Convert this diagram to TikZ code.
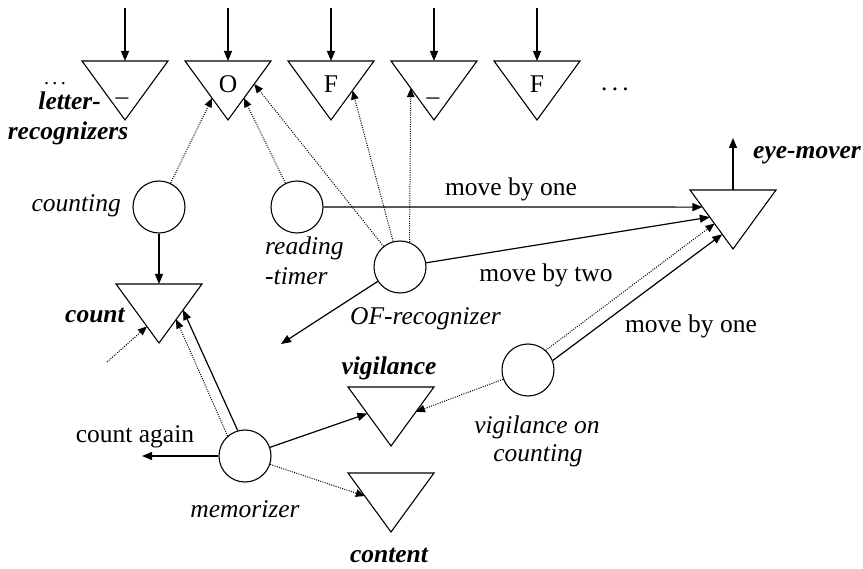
\documentclass[tikz,border=0pt]{standalone}
\usepackage{fontspec}
\setmainfont{Liberation Serif}
\usetikzlibrary{arrows.meta,calc}
\begin{document}
\begin{tikzpicture}[x=1pt,y=-1pt,
  font=\fontsize{25.5}{30}\selectfont,
  unit/.style={draw,circle,minimum size=52pt,inner sep=0pt,line width=1.1pt},
  wire/.style={line width=1.2pt,-{Triangle[length=10pt,width=8pt]}},
  hint/.style={line width=1pt,dash pattern=on 1pt off 1.3pt,-{Triangle[length=9pt,width=7.5pt]}},
  lab/.style={inner sep=0pt,anchor=base},
  tag/.style={inner sep=0pt,anchor=base,font=\fontsize{25.5}{30}\selectfont\itshape},
  bigtag/.style={inner sep=0pt,anchor=base,font=\fontsize{25.5}{30}\selectfont\bfseries\itshape},
  tri/.pic={
    \draw[line width=1.1pt] (-43,0) coordinate (-tl) -- (43,0) coordinate (-tr)
      -- (0,59) coordinate (-ap) -- cycle;
    \coordinate (-top) at (0,0);
  }]
\useasboundingbox (0,0) rectangle (863,569);

% letter recognizers
\pic (L1) at (125,61) {tri};
\pic (L2) at (228,61) {tri};
\pic (L3) at (331,61) {tri};
\pic (L4) at (434,61) {tri};
\pic (L5) at (537,61) {tri};
\node[lab] (l1t) at (122,105) {–};
\node[inner sep=0pt] (l2t) at (228,84) {O};
\node[inner sep=0pt] (l3t) at (331,84) {F};
\node[lab] (l4t) at (433,105) {–};
\node[inner sep=0pt] (l5t) at (537,84) {F};
\node[lab,font=\fontsize{20}{24}\selectfont] (dotsl) at (55,85) {.\,.\,.};
\node[lab] (dotsr) at (615,91) {.\,.\,.};
\node[bigtag,anchor=base east] (lrA) at (101,110) {letter-};
\node[bigtag] (lrB) at (68,140) {recognizers};

\foreach \n/\x in {1/125,2/228,3/331,4/434,5/537}{
  \coordinate (in\n) at (\x,8);
  \draw[wire] (in\n) -- (L\n-top);
}

% other units
\pic (CT) at (159,284) {tri};
\pic (EM) at (733,190) {tri};
\pic (VG) at (391,387) {tri};
\pic (CN) at (391,473) {tri};

\node[unit] (cnt) at (159,207) {};
\node[unit] (rt)  at (297,207) {};
\node[unit] (of)  at (400,267) {};
\node[unit] (mem) at (245,456) {};
\node[unit] (voc) at (528,370) {};

% labels
\node[tag,anchor=base east] (cntl) at (121,212) {counting};
\node[tag,anchor=base west] (rtA) at (265,255) {reading};
\node[tag,anchor=base west] (rtB) at (265,285) {-timer};
\node[tag,anchor=base west] (ofl) at (350,325) {OF-recognizer};
\node[bigtag] (ctl) at (95,323) {count};
\node[bigtag] (vgl) at (389,375) {vigilance};
\node[bigtag] (cnl) at (389,562) {content};
\node[tag] (meml) at (245,517) {memorizer};
\node[tag] (vocA) at (537,434) {vigilance on};
\node[tag] (vocB) at (538,462) {counting};
\node[bigtag,anchor=base west] (eml) at (753,159) {eye-mover};
\node[lab] (m1) at (511,196) {move by one};
\node[lab] (m2) at (546,282) {move by two};
\node[lab] (m3) at (691,333) {move by one};
\node[lab] (ca) at (135,443) {count again};

% points on triangle sides
\coordinate (L2a) at ($(L2-tl)!0.63!(L2-ap)$);
\coordinate (L2b) at ($(L2-tr)!0.63!(L2-ap)$);
\coordinate (L2c) at ($(L2-tr)!0.39!(L2-ap)$);
\coordinate (L3a) at ($(L3-tr)!0.5!(L3-ap)$);
\coordinate (L4a) at ($(L4-tl)!0.46!(L4-ap)$);
\coordinate (EMa) at ($(EM-tl)!0.29!(EM-ap)$);
\coordinate (EMb) at ($(EM-tl)!0.46!(EM-ap)$);
\coordinate (EMc) at ($(EM-tl)!0.57!(EM-ap)$);
\coordinate (EMd) at ($(EM-tl)!0.75!(EM-ap)$);
\coordinate (CTa) at ($(CT-tr)!0.44!(CT-ap)$);
\coordinate (CTb) at ($(CT-tr)!0.6!(CT-ap)$);
\coordinate (CTc) at ($(CT-tl)!0.72!(CT-ap)$);
\coordinate (VGa) at ($(VG-tl)!0.45!(VG-ap)$);
\coordinate (VGb) at ($(VG-tr)!0.42!(VG-ap)$);
\coordinate (CNa) at ($(CN-tl)!0.39!(CN-ap)$);

% free ends
\coordinate (emout) at (733,138);
\coordinate (ctin) at (107,362);
\coordinate (ofout) at (281,344);
\coordinate (again) at (142,456);

% connectors
\draw[hint] (cnt) -- (L2a);
\draw[hint] (rt) -- (L2b);
\draw[hint] (of) -- (L2c);
\draw[hint] (of) -- (L3a);
\draw[hint] (of.69) -- (L4a);
\draw[wire] (cnt) -- (CT-top);
\draw[wire] (rt) -- (EMa);
\draw[wire] (of) -- (EMb);
\draw[hint] (voc.48) -- (EMc);
\draw[wire] (voc.21) -- (EMd);
\draw[wire] (EM-top) -- (emout);
\draw[wire] (of) -- (ofout);
\draw[hint] (ctin) -- (CTc);
\draw[wire] (mem.106) -- (CTa);
\draw[hint] (mem.131) -- (CTb);
\draw[wire] (mem) -- (again);
\draw[wire] (mem) -- (VGa);
\draw[hint] (mem) -- (CNa);
\draw[hint] (voc) -- (VGb);
\end{tikzpicture}
\end{document}
